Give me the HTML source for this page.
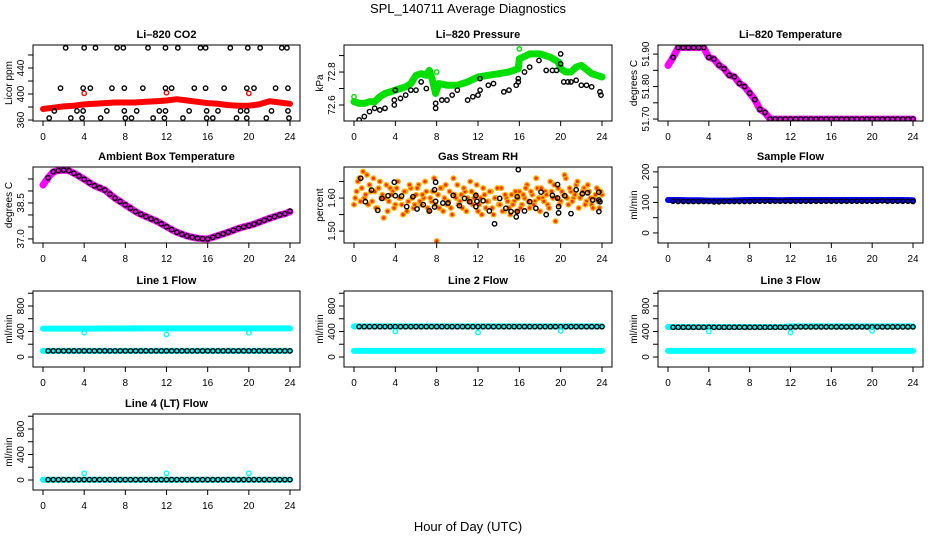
<!DOCTYPE html>
<html><head><meta charset="utf-8">
<style>
html,body{margin:0;padding:0;background:#fff;}
svg{display:block;font-family:"Liberation Sans",Arial,sans-serif;}
</style></head>
<body>
<svg id="chart" width="936" height="540" viewBox="0 0 936 540" xmlns="http://www.w3.org/2000/svg">
<rect x="0" y="0" width="936" height="540" fill="#fff"/>
<text x="468" y="13" text-anchor="middle" font-size="13">SPL_140711  Average Diagnostics</text>
<text x="468" y="531" text-anchor="middle" font-size="13">Hour of Day (UTC)</text>
</svg>
<script>
// ---------- data ----------
const xTicks = [0,4,8,12,16,20,24];
// CO2
const co2BandHours = [0,1,2,3,4,5,6,7,8,9,10,11,12,13,14,15,16,17,18,19,20,21,22,23,24];
const co2BandVals = [377,379,381,382,384,385,386,387,387,387,388,389,390,392,390,388,386,385,383,382,382,384,389,387,385];
const co2RedHours = [4,12,20];
const co2RedVals = [401,402,401];
const co2BlackHours = [2.2,4.0,5.1,7.2,7.8,10.2,11.9,13.1,15.3,15.8,18.2,19.9,21.1,23.2,23.7,
 1.7,3.9,4.6,6.7,7.9,9.7,11.9,12.5,14.7,15.8,17.6,19.8,20.5,22.6,23.8,
 1.1,3.3,3.9,6.2,7.9,9.1,11.3,11.9,14.2,15.9,17.0,19.2,19.8,22.2,23.8,
 0.6,2.7,3.8,5.6,8.0,8.6,10.7,11.8,13.6,15.9,16.5,18.8,19.8,21.7,23.9];
const co2BlackVals = [471,471,471,471,471,471,471,471,471,471,471,471,471,471,471,
 409,409,409,409,409,409,409,409,409,409,409,409,409,409,409,
 374,374,374,374,374,374,374,374,374,374,374,374,374,374,374,
 363,363,363,363,363,363,363,363,363,363,363,363,363,363,363];
// Pressure
const presBandHours = [0,0.5,1,1.5,2,2.5,3,3.5,4,4.5,5,5.5,6,6.5,7,7.3,7.6,7.9,8.2,9,10,11,12,13,14,15,15.9,16,17,18,19,19.8,20,20.5,21,21.5,22,23,24];
const presBandVals = [72.62,72.61,72.61,72.62,72.62,72.65,72.67,72.68,72.69,72.70,72.71,72.73,72.78,72.79,72.78,72.81,72.75,72.67,72.73,72.72,72.72,72.74,72.77,72.78,72.79,72.80,72.82,72.88,72.91,72.91,72.89,72.86,72.82,72.80,72.80,72.83,72.84,72.79,72.77];
const presGreenHours = [0,8,16];
const presGreenVals = [72.65,72.80,72.94];
const presBlackHours = [0.5,1,1.5,2,2.5,3,3.9,3.9,4,4.5,5,5.5,6,6.5,7,7.9,7.9,8.5,9,9.5,10,11,11.5,12,12.2,12.2,13,13.5,14.5,15,15.7,15.9,15.9,16.5,17,17.9,18.6,19.2,19.6,20,20,20.3,20.7,21,21.5,22,22.5,23,23.8,23.9];
const presBlackVals = [72.51,72.53,72.56,72.58,72.57,72.58,72.60,72.63,72.69,72.64,72.66,72.69,72.69,72.74,72.70,72.61,72.58,72.63,72.63,72.66,72.69,72.63,72.65,72.66,72.69,72.76,72.72,72.73,72.68,72.69,72.72,72.76,72.74,72.80,72.83,72.87,72.81,72.81,72.81,72.91,72.85,72.74,72.74,72.74,72.75,72.72,72.72,72.71,72.68,72.66];
// Li-820 temperature (0.5 h grid from 0)
const tempPink = [51.865,51.89,51.92,51.92,51.92,51.92,51.92,51.92,51.89,51.885,51.866,51.855,51.835,51.83,51.81,51.80,51.78,51.76,51.73,51.72,51.70,51.70,51.70,51.70,51.70,51.70,51.70,51.70,51.70,51.70,51.70,51.70,51.70,51.70,51.70,51.70,51.70,51.70,51.70,51.70,51.70,51.70,51.70,51.70,51.70,51.70,51.70,51.70,51.70];
const tempBlack = [51.865,51.89,51.92,51.92,51.92,51.92,51.92,51.92,51.89,51.885,51.866,51.855,51.835,51.83,51.81,51.80,51.78,51.76,51.73,51.72,51.70,51.70,51.70,51.70,51.70,51.70,51.70,51.70,51.70,51.70,51.70,51.70,51.70,51.70,51.70,51.70,51.70,51.70,51.70,51.70,51.70,51.70,51.70,51.70,51.70,51.70,51.70,51.70,51.70];
// Ambient box temperature (0.5 h grid from 0)
const ambPink = [39.25,39.55,39.8,39.85,39.87,39.85,39.74,39.62,39.49,39.35,39.22,39.13,39.04,38.87,38.7,38.56,38.42,38.28,38.14,38.03,37.93,37.84,37.75,37.63,37.51,37.39,37.28,37.2,37.12,37.07,37.03,37.01,37.0,37.07,37.14,37.21,37.28,37.36,37.44,37.5,37.55,37.62,37.7,37.78,37.86,37.93,38.0,38.05,38.14];
const ambBlack = [39.25,39.55,39.8,39.85,39.87,39.85,39.74,39.62,39.49,39.35,39.22,39.13,39.04,38.87,38.7,38.56,38.42,38.28,38.14,38.03,37.93,37.84,37.75,37.63,37.51,37.39,37.28,37.2,37.12,37.07,37.03,37.01,37.0,37.07,37.14,37.21,37.28,37.36,37.44,37.5,37.55,37.62,37.7,37.78,37.86,37.93,38.0,38.05,38.16];
// Gas stream RH (orange 0.25 h grid)
const rhOrangeA = [1.58,1.62,1.66,1.63,1.60,1.67,1.64,1.59,1.62,1.57,1.65,1.61,1.60,1.56,1.63,1.62,1.58,1.65,1.60,1.55,1.62,1.59,1.63,1.57,1.61,1.64,1.58,1.60,1.62,1.56,1.59,1.66,1.47,1.57,1.63,1.60,1.58,1.62,1.55,1.61,1.64,1.59,1.57,1.62,1.60,1.65,1.58,1.61,1.56,1.60,1.63,1.57,1.59,1.62,1.55,1.60,1.58,1.63,1.56,1.60,1.57,1.61,1.59,1.56,1.62,1.58,1.60,1.64,1.57,1.61,1.59,1.63,1.56,1.60,1.62,1.58,1.65,1.60,1.53,1.63,1.59,1.61,1.66,1.58,1.62,1.60,1.64,1.57,1.61,1.63,1.59,1.62,1.58,1.60,1.63,1.57,1.61];
const rhOrangeB = [1.60,1.65,1.59,1.68,1.61,1.58,1.62,1.66,1.57,1.63,1.60,1.54,1.64,1.59,1.61,1.57,1.63,1.60,1.58,1.62,1.56,1.64,1.60,1.58,1.63,1.59,1.61,1.65,1.57,1.60,1.62,1.58,1.61,1.63,1.56,1.64,1.59,1.57,1.66,1.60,1.58,1.61,1.63,1.56,1.59,1.62,1.60,1.64,1.58,1.55,1.61,1.59,1.62,1.57,1.60,1.63,1.58,1.56,1.61,1.59,1.55,1.58,1.62,1.60,1.57,1.61,1.63,1.59,1.62,1.58,1.66,1.60,1.63,1.59,1.61,1.57,1.62,1.64,1.60,1.58,1.62,1.67,1.60,1.63,1.59,1.61,1.65,1.60,1.62,1.58,1.64,1.60,1.57,1.61,1.59,1.62,1.60];
const rhBlackHours = [0.65,1.1,1.7,2.3,2.7,3.3,3.9,4.0,4.6,5.1,5.7,6.1,6.7,7.3,7.8,7.8,7.9,7.9,8.6,9.1,9.6,10.2,10.7,11.2,11.8,11.8,11.9,12.5,13.1,13.6,14.1,14.7,15.2,15.7,15.8,15.8,15.9,16.5,17.0,17.6,18.1,18.6,19.2,19.7,19.7,19.8,19.8,20.4,21.0,21.5,22.1,22.6,23.1,23.7,23.7,23.8,23.7];
const rhBlackVals = [1.66,1.589,1.624,1.563,1.599,1.607,1.648,1.607,1.606,1.574,1.604,1.567,1.58,1.561,1.625,1.573,1.648,1.59,1.585,1.585,1.608,1.577,1.599,1.589,1.608,1.574,1.59,1.592,1.561,1.522,1.599,1.569,1.559,1.543,1.604,1.559,1.686,1.561,1.589,1.569,1.618,1.55,1.608,1.60,1.641,1.574,1.555,1.607,1.553,1.625,1.613,1.616,1.594,1.618,1.594,1.589,1.559];
// Sample flow
const sampleBlue = [108,108,107,107,106,106,106,107,108,108,108,107,108,108,108,108,108,108,108,108,108,108,108,108,107];
const sampleBlack = [104,103,103,103,103,103,103,103,102,102,103,103,103,103,103,103,104,104,104,104,104,104,104,104,104,104,104,104,104,104,104,104,104,104,104,104,104,104,104,104,104,105,104,104,104,104,104,103];
// Line flows (cyan hourly, black 0.5 h grid from 0.5)
const l1CyanHigh = [445,445,446,446,446,446,447,447,447,448,448,448,448,448,448,448,448,448,448,448,448,448,448,448,448];
const l1CyanLow = [96,96,96,96,96,96,96,96,96,96,96,96,96,96,96,96,96,96,96,96,96,96,96,96,96];
const l1Black = [96,96,96,96,96,96,96,96,96,96,96,96,96,96,96,96,96,96,96,96,96,96,96,96,96,96,96,96,96,96,96,96,96,96,96,96,96,96,96,96,96,96,96,96,96,96,96,96];
const l1OutHours = [4,12,20];
const l1OutVals = [380,354,380];
const l2CyanHigh = [480,480,480,480,480,480,480,480,480,480,480,480,480,480,480,480,480,480,480,480,480,480,480,480,480];
const l2CyanLow = [96,96,96,96,96,96,96,96,96,96,96,96,96,96,96,96,96,96,96,96,96,96,96,96,96];
const l2Black = [476,476,476,476,476,476,476,476,476,476,476,476,476,476,476,476,476,476,476,476,476,476,476,476,476,476,476,476,476,476,476,476,476,476,476,476,476,476,476,476,476,476,476,476,476,476,476,476];
const l2OutVals = [400,385,410];
const l3CyanHigh = [470,470,470,470,470,470,470,470,470,470,470,470,480,480,480,480,480,480,480,480,480,480,480,480,480];
const l3CyanLow = [96,96,96,96,96,96,96,96,96,96,96,96,96,96,96,96,96,96,96,96,96,96,96,96,96];
const l3Black = [466,466,466,466,466,466,466,466,466,466,466,466,466,466,466,466,466,466,466,466,466,466,466,466,472,472,472,472,472,472,472,472,472,472,472,472,472,472,472,472,472,472,472,472,472,472,472,472];
const l3OutVals = [400,385,410];
const l4Cyan = [5,5,5,5,5,5,5,5,5,5,5,5,5,5,5,5,5,5,5,5,5,5,5,5,5];
const l4Black = [5,5,5,5,5,5,5,5,5,5,5,5,5,5,5,5,5,5,5,5,5,5,5,5,5,5,5,5,5,5,5,5,5,5,5,5,5,5,5,5,5,5,5,5,5,5,5,5];
const l4OutVals = [105,105,105];

// ---------- drawing ----------
const NS = 'http://www.w3.org/2000/svg';
const svg = document.getElementById('chart');
const colL = [33,344,658], colR = [300,612,923];
const rowT = [45,167,291,414], rowH = 76;
function mk(tag, attrs, parent){ const e=document.createElementNS(NS,tag); for(const k in attrs) e.setAttribute(k,attrs[k]); (parent||svg).appendChild(e); return e; }
const hoursGrid = (n, start, step) => Array.from({length:n}, (_,i)=>start+i*step);

function panel(name, title, ylab, col, row, dom, ticks, labels){
  const L=colL[col], R=colR[col], T=rowT[row], B=T+rowH;
  const g = mk('g',{});
  
  
  const xs = h => L+10+h*(R-L-20)/24;
  const ys = v => B-(v-dom[0])/(dom[1]-dom[0])*rowH;
  const clipId='clip-'+name;
  const cp=mk('clipPath',{id:clipId},g); mk('rect',{x:L,y:T,width:R-L,height:rowH},cp);
  const plot=mk('g',{'clip-path':'url(#'+clipId+')'},g);
  
  
  const box=mk('rect',{x:L,y:T,width:R-L,height:rowH,fill:'none',stroke:'#000','stroke-width':1},g);
  
  
  const t=mk('text',{x:(L+R)/2,y:T-7,'text-anchor':'middle','font-size':11,'font-weight':'bold'},g); t.textContent=title;
  
  
  // x axis
  const xa=mk('g',{},g);
  
  
  mk('line',{x1:xs(0),x2:xs(24),y1:B,y2:B,stroke:'#000'},xa);
  xTicks.forEach(h=>{
    mk('line',{x1:xs(h),x2:xs(h),y1:B,y2:B+5,stroke:'#000'},xa);
    const tl=mk('text',{x:xs(h),y:B+19,'text-anchor':'middle','font-size':10},xa); tl.textContent=h;
    
    
  });
  // y axis
  const ya=mk('g',{},g);
  
  
  mk('line',{x1:L,x2:L,y1:ys(ticks[0]),y2:ys(ticks[ticks.length-1]),stroke:'#000'},ya);
  ticks.forEach(v=>mk('line',{x1:L-5,x2:L,y1:ys(v),y2:ys(v),stroke:'#000'},ya));
  labels.forEach(v=>{
    const yy=ys(parseFloat(v));
    const tl=mk('text',{x:L-9,y:yy,'text-anchor':'middle','font-size':10,transform:'rotate(-90 '+(L-9)+' '+yy+')'},ya); tl.textContent=v;
    
    
  });
  const yl=mk('text',{x:L-21,y:(T+B)/2,'text-anchor':'middle','font-size':10,transform:'rotate(-90 '+(L-21)+' '+((T+B)/2)+')'},g); yl.textContent=ylab;
  
  
  return {plot, xs, ys};
}
function band(p, hours, vals, color, w, nm){
  const pts = vals.map((v,i)=>p.xs(hours[i]).toFixed(1)+','+p.ys(v).toFixed(1)).join(' ');
  const e=mk('polyline',{points:pts,fill:'none',stroke:color,'stroke-width':w,'stroke-linejoin':'round','stroke-linecap':'round'},p.plot);
  
  
}
function dots(p, hours, vals, color, nm, fill, r){
  const g=mk('g',{},p.plot);
  
  
  vals.forEach((v,i)=>{ if(hours[i]>24.01) return;
    mk('circle',{cx:p.xs(hours[i]),cy:p.ys(v),r:r||2.2,fill:fill||'none',stroke:color,'stroke-width':1.4},g); });
}
const H25 = hoursGrid(25,0,1), H49 = hoursGrid(49,0,0.5), H48 = hoursGrid(48,0.5,0.5);
const outH = [4,12,20];

let p;
p = panel('co2','Li\u2013820 CO2','Licor ppm',0,0,[358.5,475.4],[360,380,400,420,440,460],['360','400','440']);
band(p,co2BandHours,co2BandVals,'#ff0000',6,'co2-red-series');
dots(p,co2RedHours,co2RedVals,'#ff0000','co2-red-outliers');
dots(p,co2BlackHours,co2BlackVals,'#000','co2-black-series');

p = panel('pressure','Li\u2013820 Pressure','kPa',1,0,[72.503,72.964],[72.6,72.7,72.8,72.9],['72.6','72.8']);
band(p,presBandHours,presBandVals,'#00e000',7,'pressure-green-series');
dots(p,presGreenHours,presGreenVals,'#00e000','pressure-green-outliers');
dots(p,presBlackHours,presBlackVals,'#000','pressure-black-series');

p = panel('li820-temp','Li\u2013820 Temperature','degrees C',2,0,[51.694,51.928],[51.70,51.75,51.80,51.85,51.90],['51.70','51.80','51.90']);
band(p,H49,tempPink,'#ff00ff',7,'li820-temp-magenta-series');
dots(p,H49.slice(1),tempBlack.slice(1),'#000','li820-temp-black-series');

p = panel('ambient','Ambient Box Temperature','degrees C',0,1,[36.83,40.0],[37.0,37.5,38.0,38.5,39.0,39.5],['37.0','38.5']);
band(p,H49,ambPink,'#ff00ff',7,'ambient-magenta-series');
dots(p,H49.slice(1),ambBlack.slice(1),'#000','ambient-black-series');

p = panel('rh','Gas Stream RH','percent',1,1,[1.464,1.694],[1.50,1.55,1.60,1.65],['1.50','1.60']);
dots(p,hoursGrid(rhOrangeA.length,0,0.25),rhOrangeA,'#ffb000','rh-orange-series-a','#ff3000',2.3);
dots(p,hoursGrid(rhOrangeB.length,0.125,0.25),rhOrangeB,'#ffb000','rh-orange-series-b','#ff3000',2.3);
dots(p,rhBlackHours,rhBlackVals,'#000','rh-black-series');

p = panel('sample-flow','Sample Flow','ml/min',2,1,[-33,216],[0,50,100,150,200],['0','100','200']);
band(p,H25,sampleBlue,'#0000ff',6,'sample-flow-blue-series');
dots(p,H48,sampleBlack,'#000','sample-flow-black-series');

const lDom=[-157,1035], lTicks=[0,200,400,600,800,1000], lLab=['0','400','800'];
p = panel('line1','Line 1 Flow','ml/min',0,2,lDom,lTicks,lLab);
band(p,H25,l1CyanHigh,'#00ffff',6,'line1-cyan-high-series');
band(p,H25,l1CyanLow,'#00ffff',6,'line1-cyan-low-series');
dots(p,H48,l1Black,'#000','line1-black-series');
dots(p,l1OutHours,l1OutVals,'#00ffff','line1-cyan-outliers');

p = panel('line2','Line 2 Flow','ml/min',1,2,lDom,lTicks,lLab);
band(p,H25,l2CyanHigh,'#00ffff',6,'line2-cyan-high-series');
band(p,H25,l2CyanLow,'#00ffff',6,'line2-cyan-low-series');
dots(p,H48,l2Black,'#000','line2-black-series');
dots(p,outH,l2OutVals,'#00ffff','line2-cyan-outliers');

p = panel('line3','Line 3 Flow','ml/min',2,2,lDom,lTicks,lLab);
band(p,H25,l3CyanHigh,'#00ffff',6,'line3-cyan-high-series');
band(p,H25,l3CyanLow,'#00ffff',6,'line3-cyan-low-series');
dots(p,H48,l3Black,'#000','line3-black-series');
dots(p,outH,l3OutVals,'#00ffff','line3-cyan-outliers');

p = panel('line4','Line 4 (LT) Flow','ml/min',0,3,lDom,lTicks,lLab);
band(p,H25,l4Cyan,'#00ffff',6,'line4-cyan-series');
dots(p,H48,l4Black,'#000','line4-black-series');
dots(p,outH,l4OutVals,'#00ffff','line4-cyan-outliers');
</script>
</body></html>
